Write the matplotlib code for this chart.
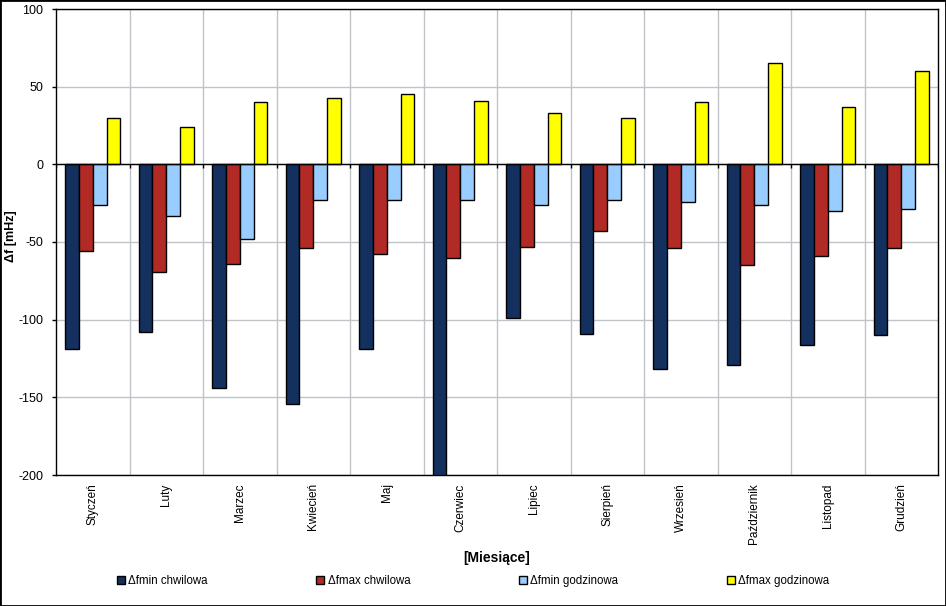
import matplotlib
matplotlib.use("Agg")
import matplotlib.pyplot as plt
import numpy as np

months = ["Styczeń", "Luty", "Marzec", "Kwiecień", "Maj", "Czerwiec", "Lipiec",
          "Sierpień", "Wrzesień", "Październik", "Listopad", "Grudzień"]
fmin_chw = [-119, -108, -144, -154.5, -119, -200, -99, -109.5, -132, -129, -116.5, -110]
fmax_chw = [-56, -69, -64, -54, -58, -60.5, -53.5, -43, -54, -64.5, -59, -54]
fmin_godz = [-26.5, -33.5, -48, -23, -23, -23, -26.5, -23, -24.5, -26.5, -30, -29]
fmax_godz = [30, 24, 40, 43, 45, 40.5, 33, 30, 40, 65, 37, 60]

series = [("Δfmin chwilowa", fmin_chw, "#13305F"),
          ("Δfmax chwilowa", fmax_chw, "#B22A25"),
          ("Δfmin godzinowa", fmin_godz, "#99CCFF"),
          ("Δfmax godzinowa", fmax_godz, "#FFFF00")]

plt.rcParams['font.family'] = ['Liberation Sans', 'DejaVu Sans']
plt.rcParams['axes.unicode_minus'] = False

fig = plt.figure(figsize=(9.46, 6.06), dpi=100)
ax = fig.add_axes([56/946, 131/606, 882/946, 466/606])

n = len(months)
x = np.arange(n)
bw = 0.1875
for i, (lab, vals, col) in enumerate(series):
    ax.bar(x + (i - 1.5) * bw, vals, width=bw, color=col, edgecolor='black',
           linewidth=1, label=lab, zorder=3)

ax.set_xlim(-0.5, n - 0.5)
ax.set_ylim(-200, 100)
ax.set_yticks(np.arange(-200, 101, 50))
ax.tick_params(axis='y', labelsize=9, length=3, width=1, pad=6, direction='out',
               colors='black')

# category boundary gridlines
bounds = np.arange(0.5, n - 0.5, 1.0)
ax.set_xticks(bounds, minor=True)
ax.set_xticks(x)
ax.set_xticklabels(months, rotation=90, fontsize=8.5)
ax.tick_params(axis='x', which='major', length=0, pad=6)
ax.tick_params(axis='x', which='minor', length=0)
ax.grid(True, which='minor', axis='x', color='#C0C4C8', linewidth=1, zorder=0)
ax.grid(True, which='major', axis='y', color='#C0C4C8', linewidth=1, zorder=0)

# zero axis with tick marks at boundaries
ax.axhline(0, color='black', linewidth=1, zorder=4)
ax.vlines(np.concatenate(([-0.5], bounds, [n - 0.5])), -2.6, 0, color='black',
          linewidth=1, zorder=4)

for s in ax.spines.values():
    s.set_color('black')
    s.set_linewidth(1)

ax.set_ylabel("Δf [mHz]", fontsize=9, fontweight='bold')
ax.yaxis.set_label_coords((17 - 56) / 882, (475 - 236) / 466)
ax.set_xlabel("[Miesiące]", fontsize=10, fontweight='bold')
ax.xaxis.set_label_coords(0.5, (475 - 551) / 466)

fig.legend(loc='center', bbox_to_anchor=(0.5, 25/606), ncol=4,
           frameon=False, fontsize=8.3, handlelength=0.7, handleheight=0.7,
           handletextpad=0.3, columnspacing=9.4)

# figure border
fig.patches.append(plt.Rectangle((0, 0), 1, 1, transform=fig.transFigure,
                                 fill=False, edgecolor='black', linewidth=2))

fig.savefig("out.png", dpi=100)
